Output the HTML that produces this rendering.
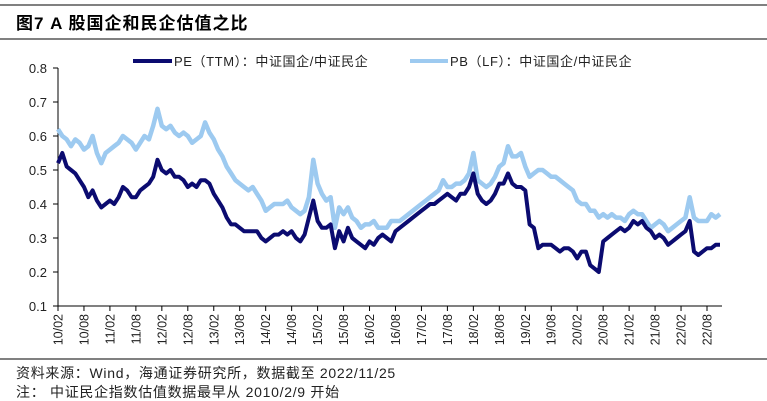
<!DOCTYPE html>
<html><head><meta charset="utf-8">
<style>
body{margin:0;background:#fff;width:767px;height:401px;overflow:hidden;font-family:"Liberation Sans","Noto Sans CJK SC",sans-serif;}
svg{position:absolute;left:0;top:0}
</style></head>
<body>
<svg id="chart" width="767" height="401" viewBox="0 0 767 401">
  <line x1="0" y1="5" x2="767" y2="5" stroke="#000" stroke-width="1"/>
  <text x="16" y="29" font-size="17" font-weight="bold" letter-spacing="1" font-family="Liberation Sans, Noto Sans CJK SC, sans-serif">图7  A 股国企和民企估值之比</text>
  <line x1="0" y1="39" x2="767" y2="39" stroke="#000" stroke-width="1"/>
  <g>
    <g>
      <line x1="133" y1="61" x2="172" y2="61" stroke="#0b0b70" stroke-width="4"/>
      <text x="174" y="66" font-size="13" letter-spacing="0.6" fill="#222">PE（TTM）：中证国企/中证民企</text>
    </g>
    <g>
      <line x1="410" y1="61" x2="448" y2="61" stroke="#9dcaf0" stroke-width="4"/>
      <text x="450" y="66" font-size="13" letter-spacing="0.6" fill="#222">PB（LF）：中证国企/中证民企</text>
    </g>
  </g>
  <g id="axes"></g>
  <g id="series"></g>
  <line x1="0" y1="359" x2="767" y2="359" stroke="#000" stroke-width="1"/>
  <text x="16" y="378" font-size="14" letter-spacing="0.7" fill="#222">资料来源：Wind，海通证券研究所，数据截至 2022/11/25</text>
  <text x="16" y="397" font-size="14" letter-spacing="0.7" fill="#222">注：  中证民企指数估值数据最早从 2010/2/9 开始</text>
</svg>
<script>
const yTicks = [0.1,0.2,0.3,0.4,0.5,0.6,0.7,0.8];
const xTickLabels = ["10/02","10/08","11/02","11/08","12/02","12/08","13/02","13/08","14/02","14/08","15/02","15/08","16/02","16/08","17/02","17/08","18/02","18/08","19/02","19/08","20/02","20/08","21/02","21/08","22/02","22/08"];
// monthly values starting Feb 2010
const peValues = [0.52,0.55,0.51,0.50,0.49,0.47,0.45,0.42,0.44,0.41,0.39,0.40,0.41,0.40,0.42,0.45,0.44,0.42,0.42,0.44,0.45,0.46,0.48,0.53,0.50,0.49,0.50,0.48,0.48,0.47,0.45,0.46,0.45,0.47,0.47,0.46,0.43,0.41,0.39,0.36,0.34,0.34,0.33,0.32,0.32,0.32,0.32,0.30,0.29,0.30,0.31,0.31,0.32,0.31,0.32,0.30,0.29,0.31,0.36,0.41,0.35,0.33,0.33,0.34,0.27,0.32,0.29,0.33,0.30,0.29,0.28,0.27,0.29,0.28,0.30,0.31,0.30,0.29,0.32,0.33,0.34,0.35,0.36,0.37,0.38,0.39,0.40,0.40,0.41,0.42,0.43,0.42,0.41,0.43,0.43,0.45,0.49,0.43,0.41,0.40,0.41,0.43,0.46,0.46,0.49,0.46,0.45,0.45,0.44,0.34,0.33,0.27,0.28,0.28,0.28,0.27,0.26,0.27,0.27,0.26,0.24,0.26,0.26,0.22,0.21,0.20,0.29,0.30,0.31,0.32,0.33,0.32,0.33,0.35,0.34,0.35,0.33,0.32,0.30,0.31,0.30,0.28,0.29,0.30,0.31,0.32,0.35,0.26,0.25,0.26,0.27,0.27,0.28,0.28];
const pbValues = [0.62,0.60,0.59,0.57,0.59,0.58,0.56,0.57,0.60,0.55,0.52,0.55,0.56,0.57,0.58,0.60,0.59,0.58,0.56,0.58,0.60,0.59,0.63,0.68,0.63,0.62,0.63,0.61,0.60,0.61,0.60,0.58,0.59,0.60,0.64,0.61,0.59,0.56,0.54,0.51,0.49,0.47,0.46,0.45,0.44,0.45,0.43,0.41,0.38,0.39,0.40,0.40,0.40,0.41,0.39,0.38,0.37,0.38,0.42,0.53,0.46,0.43,0.41,0.42,0.33,0.39,0.37,0.39,0.36,0.35,0.33,0.34,0.34,0.35,0.33,0.33,0.33,0.35,0.35,0.35,0.36,0.37,0.38,0.39,0.40,0.41,0.42,0.43,0.44,0.47,0.45,0.45,0.46,0.46,0.47,0.49,0.55,0.47,0.46,0.45,0.46,0.48,0.51,0.52,0.57,0.54,0.54,0.55,0.51,0.48,0.49,0.50,0.50,0.49,0.48,0.48,0.47,0.46,0.45,0.44,0.41,0.40,0.40,0.38,0.38,0.36,0.37,0.36,0.37,0.36,0.36,0.35,0.37,0.38,0.37,0.37,0.35,0.33,0.34,0.35,0.34,0.32,0.33,0.34,0.35,0.36,0.42,0.36,0.35,0.35,0.35,0.37,0.36,0.37];

const NS = "http://www.w3.org/2000/svg";
const X0 = 58, X1 = 722, Y0 = 306, MONTH = 25.96/6;
const xScale = m => X0 + m*MONTH;
const yScale = v => Y0 - (v-0.1)/0.7*238;
function mk(tag, attrs, parent){const e=document.createElementNS(NS,tag);for(const k in attrs)e.setAttribute(k,attrs[k]);parent.appendChild(e);return e;}
const axes = document.getElementById('axes');
const series = document.getElementById('series');

let yl = mk('line',{x1:X0,y1:yScale(0.8),x2:X0,y2:Y0,stroke:'#000','stroke-width':1},axes);


let xl = mk('line',{x1:X0,y1:Y0,x2:X1,y2:Y0,stroke:'#000','stroke-width':1},axes);



yTicks.forEach(v=>{
  const y=yScale(v);
  const t=mk('line',{x1:X0-5,y1:y,x2:X0,y2:y,stroke:'#000','stroke-width':1},axes);
  
  
  const tx=mk('text',{x:X0-11,y:y+5,'text-anchor':'end','font-size':13,fill:'#222'},axes);
  
  
  tx.textContent=v.toFixed(1);
});
xTickLabels.forEach((lab,i)=>{
  const x=xScale(i*6);
  const t=mk('line',{x1:x,y1:Y0,x2:x,y2:Y0+5,stroke:'#000','stroke-width':1},axes);
  
  
  const tx=mk('text',{x:0,y:0,'text-anchor':'end','font-size':12.5,fill:'#222',transform:`translate(${x+4.5},${Y0+8}) rotate(-90)`},axes);
  
  
  tx.textContent=lab;
});
function path(vals){return vals.map((v,i)=>(i?'L':'M')+xScale(i).toFixed(1)+','+yScale(v).toFixed(1)).join('');}
const pb=mk('path',{d:path(pbValues),fill:'none',stroke:'#9dcaf0','stroke-width':4.5,'stroke-linejoin':'round'},series);


const pe=mk('path',{d:path(peValues),fill:'none',stroke:'#0b0b70','stroke-width':4,'stroke-linejoin':'round'},series);


</script>
</body></html>
